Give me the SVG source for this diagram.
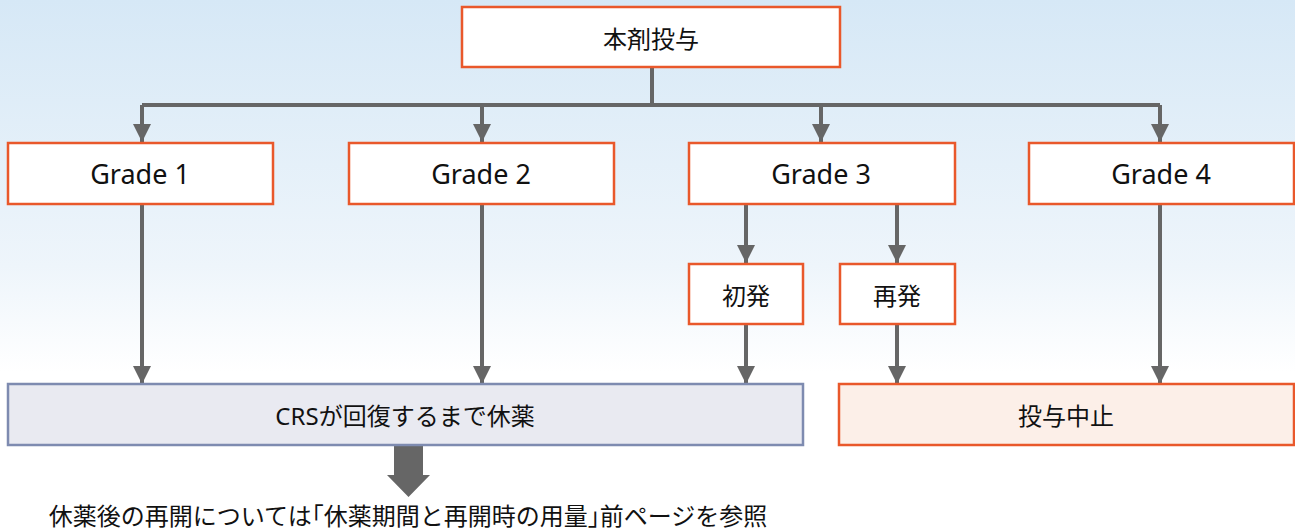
<svg xmlns="http://www.w3.org/2000/svg" width="1295" height="532" viewBox="0 0 1295 532">
<defs>
<linearGradient id="bg" x1="0" y1="0" x2="0" y2="1">
<stop offset="0" stop-color="#d6e8f6"/>
<stop offset="0.5" stop-color="#eef5fb"/>
<stop offset="0.7" stop-color="#ffffff"/>
</linearGradient>
<marker id="ah" viewBox="0 0 10 10" refX="10" refY="5" markerWidth="18" markerHeight="18" markerUnits="userSpaceOnUse" orient="auto">
<path d="M0,0 L10,5 L0,10 z" fill="#666666"/>
</marker>
</defs>
<style>
.box{fill:#ffffff;stroke:#e9582b;stroke-width:2.5}
.crs{fill:#e9eaf1;stroke:#7e8bb0;stroke-width:2.5}
.stop{fill:#fcefe8;stroke:#e9582b;stroke-width:2.5}
.t{font-family:"Noto Sans","Noto Sans CJK JP",sans-serif;font-size:24px;fill:#111;text-anchor:middle;dominant-baseline:central}
.g{font-size:27px}
.h{font-feature-settings:"halt"}
.c{fill:none;stroke:#666666;stroke-width:4}
</style>
<rect width="1295" height="532" fill="url(#bg)"/>
<g id="connectors">
<path class="c" d="M652,67 V105 M142,105 H1160"/>
<path class="c" d="M142,105 V142" marker-end="url(#ah)"/>
<path class="c" d="M482,105 V142" marker-end="url(#ah)"/>
<path class="c" d="M821,105 V142" marker-end="url(#ah)"/>
<path class="c" d="M1160,105 V142" marker-end="url(#ah)"/>
<path class="c" d="M746,204 V263" marker-end="url(#ah)"/>
<path class="c" d="M897,204 V263" marker-end="url(#ah)"/>
<path class="c" d="M746,324 V384" marker-end="url(#ah)"/>
<path class="c" d="M897,324 V384" marker-end="url(#ah)"/>
<path class="c" d="M142,204 V384" marker-end="url(#ah)"/>
<path class="c" d="M482,204 V384" marker-end="url(#ah)"/>
<path class="c" d="M1160,204 V384" marker-end="url(#ah)"/>
<path d="M394,446 H423 V475 H430 L408.5,497 L387,475 H394 Z" fill="#666666"/>
</g>
<g id="n-top"><rect class="box" x="462" y="7" width="378" height="60"/><text class="t" x="651" y="38">本剤投与</text></g>
<g id="n-g1"><rect class="box" x="8" y="143" width="265" height="61"/><text class="t g" x="140" y="173">Grade 1</text></g>
<g id="n-g2"><rect class="box" x="349" y="143" width="265" height="61"/><text class="t g" x="481" y="173">Grade 2</text></g>
<g id="n-g3"><rect class="box" x="689" y="143" width="266" height="61"/><text class="t g" x="821" y="173">Grade 3</text></g>
<g id="n-g4"><rect class="box" x="1029" y="143" width="265" height="61"/><text class="t g" x="1161" y="173">Grade 4</text></g>
<g id="n-first"><rect class="box" x="689" y="264" width="114" height="60"/><text class="t" x="746" y="295">初発</text></g>
<g id="n-re"><rect class="box" x="840" y="264" width="115" height="60"/><text class="t" x="897" y="295">再発</text></g>
<g id="n-crs"><rect class="crs" x="8" y="384" width="795" height="61"/><text class="t" x="405" y="415">CRSが回復するまで休薬</text></g>
<g id="n-stop"><rect class="stop" x="839" y="384" width="455" height="61"/><text class="t" x="1066" y="415">投与中止</text></g>
<g id="n-note"><text class="t" x="408" y="515">休薬後の再開については<tspan class="h">「</tspan>休薬期間と再開時の用量<tspan class="h">」</tspan>前ページを参照</text></g>
</svg>
